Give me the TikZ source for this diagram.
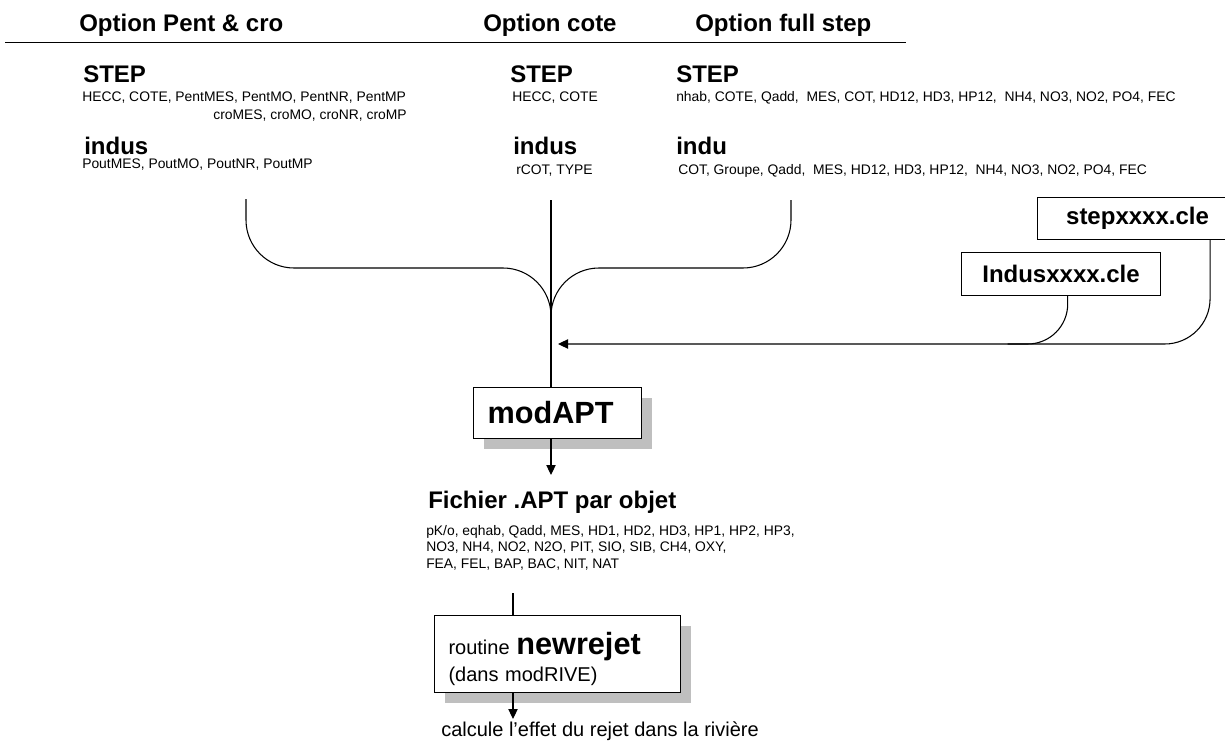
\documentclass[tikz,border=0pt]{standalone}
\usepackage{fontspec}
\setmainfont{Liberation Sans}
\usetikzlibrary{arrows.meta,shadows}

\tikzset{
  head/.style={font=\fontsize{18}{21}\selectfont\bfseries, inner sep=0pt, anchor=base west},
  small/.style={font=\fontsize{10.4}{12.5}\selectfont, inner sep=0pt, anchor=base west},
  conn/.style={line width=0.8pt},
  arr/.style={conn, -{Triangle[length=7.5pt,width=7pt]}},
  filebox/.style={draw, line width=0.8pt, inner sep=0pt, fill=white, anchor=north west,
    font=\fontsize{18}{21}\selectfont\bfseries},
  procbox/.style={draw, line width=0.8pt, fill=white, anchor=north west, align=left,
    inner xsep=10.5pt, inner ysep=0pt,
    drop shadow={shadow xshift=8pt, shadow yshift=-8pt, fill=black!25, opacity=1}},
}

\begin{document}
\begin{tikzpicture}[x=0.75pt,y=-0.75pt]
\useasboundingbox (0,0) rectangle (1225,742);

% column headings and rule
\node[head] (hpent) at (79,32) {Option Pent \& cro};
\node[head] (hcote) at (483,32) {Option cote};
\node[head] (hfull) at (695,32) {Option full step};
\draw[line width=1.1pt] (5,42.5) -- (906,42.5);

% Pent & cro option
\node[head] (pstep) at (83,83) {STEP};
\node[small] (pstepa) at (82,102) {HECC, COTE, PentMES, PentMO, PentNR, PentMP};
\node[small, anchor=base east] (pstepb) at (407,119) {croMES, croMO, croNR, croMP};
\node[head] (pind) at (84,154) {indus};
\node[small] (pinda) at (82,168) {PoutMES, PoutMO, PoutNR, PoutMP};

% cote option
\node[head] (cstep) at (510,83) {STEP};
\node[small] (cstepa) at (512,102) {HECC, COTE};
\node[head] (cind) at (513,154) {indus};
\node[small] (cinda) at (516,174) {rCOT, TYPE};

% full step option
\node[head] (fstep) at (676,83) {STEP};
\node[small] (fstepa) at (676,102) {nhab, COTE, Qadd,\ \ MES, COT, HD12, HD3, HP12,\ \ NH4, NO3, NO2, PO4, FEC};
\node[head] (find) at (676,154) {indu};
\node[small] (finda) at (678,174) {COT, Groupe, Qadd,\ \ MES, HD12, HD3, HP12,\ \ NH4, NO3, NO2, PO4, FEC};

% key files
\node[filebox, minimum width=150pt, minimum height=31.5pt] (stepcle) at (1037,197) {stepxxxx.cle};
\node[filebox, minimum width=149.25pt, minimum height=32.25pt] (induscle) at (961,252) {Indusxxxx.cle};

% modAPT
\node[procbox, text width=105pt, minimum height=38.25pt,
  font=\fontsize{23}{27}\selectfont\bfseries] (apt) at (473,387) {modAPT};

% merging of the three options
\coordinate (ltop) at (246,199);
\coordinate (mtop) at (551,200);
\coordinate (rtop) at (791,200);
\coordinate (merge) at (551,268);
\coordinate (feed) at (558,344);
\coordinate (sdrop) at ([xshift=-21pt]stepcle.south east);
\coordinate (idrop) at ([xshift=5pt]induscle.south);

\draw[conn, rounded corners=36pt] (ltop) -- (ltop |- merge) -- (merge) -- ++(0,60);
\draw[conn, rounded corners=36pt] (rtop) -- (rtop |- merge) -- (merge) -- ++(0,60);
\draw[conn] (mtop) -- (mtop |- apt.north);

% key files feeding modAPT
\draw[arr, rounded corners=34pt] (sdrop) -- (sdrop |- feed) -- (feed);
\draw[conn, rounded corners=30pt] (idrop) -- (idrop |- feed) -- ++(-60,0);

% output of modAPT
\coordinate (aptout) at (551,475);
\draw[arr] (apt.south -| mtop) -- (aptout);

\node[head] (fich) at (428,508) {Fichier .APT par objet};
\node[small] (fa) at (426,535) {pK/o, eqhab, Qadd, MES, HD1, HD2, HD3, HP1, HP2, HP3,};
\node[small] (fb) at (426,551.5) {NO3, NH4, NO2, N2O, PIT, SIO, SIB, CH4, OXY,};
\node[small] (fc) at (426,568) {FEA, FEL, BAP, BAC, NIT, NAT};

% newrejet routine
\node[procbox, text width=163.5pt, minimum height=57.75pt,
  font=\fontsize{15}{20.25}\selectfont] (rejet) at (434,615)
  {\rule{0pt}{24pt}routine {\fontsize{23}{20.25}\selectfont\bfseries newrejet}\\(dans modRIVE)};

\coordinate (ftail) at (513,593);
\coordinate (rejout) at (513,719);
\draw[conn] (ftail) -- (ftail |- rejet.north);
\draw[arr] (rejet.south -| ftail) -- (rejout);

\node[font=\fontsize{15}{17}\selectfont, inner sep=0pt, anchor=base west] (calc) at (441,736)
  {calcule l’effet du rejet dans la rivière};
\end{tikzpicture}
\end{document}
